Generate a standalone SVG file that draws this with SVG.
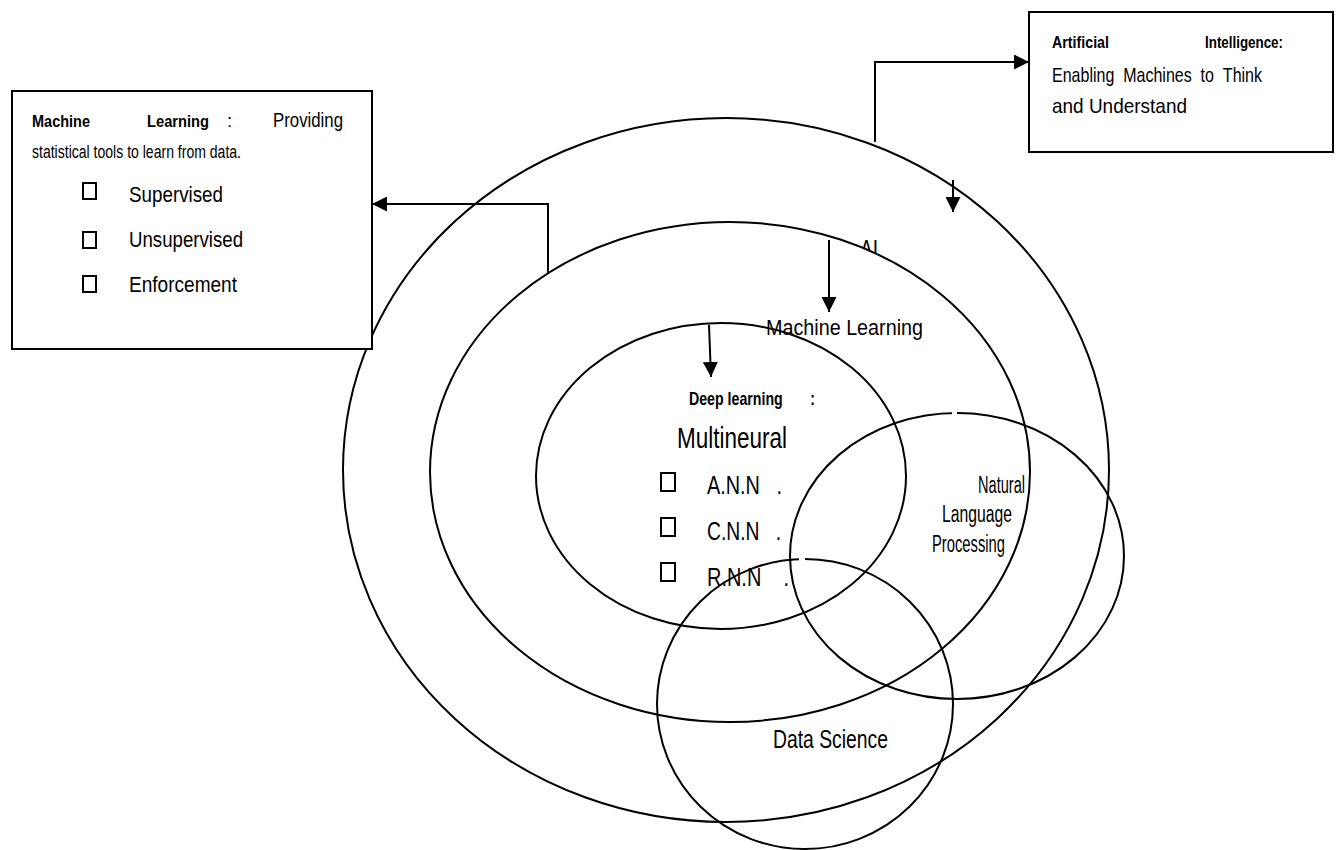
<svg xmlns="http://www.w3.org/2000/svg" width="1336" height="850" viewBox="0 0 1336 850">
<style>
  .ell{stroke:#000;stroke-width:2}
  .filled{fill:#fff}
  .open{fill:none}
  .box{fill:#fff;stroke:#000;stroke-width:2}
  .chk{fill:none;stroke:#000;stroke-width:2}
  .con{fill:none;stroke:#000;stroke-width:2}
  text{font-family:"Liberation Sans",Arial,sans-serif;fill:#000}
  .b{font-weight:bold}
</style>
<defs>
  <marker id="arr" viewBox="0 0 10 10" refX="10" refY="5" markerWidth="15" markerHeight="15" markerUnits="userSpaceOnUse" orient="auto">
    <path d="M0,0 L10,5 L0,10 Z" fill="#000"/>
  </marker>
</defs>
<rect width="1336" height="850" fill="#fff"/>

<g id="ai-ellipse">
  <ellipse class="ell filled" cx="726" cy="470" rx="383" ry="352"/>
  <text x="860" y="258" font-size="26" textLength="18" lengthAdjust="spacingAndGlyphs">AI</text>
</g>
<g id="ml-ellipse">
  <ellipse class="ell filled" cx="730" cy="472" rx="300" ry="250"/>
</g>
<g id="dl-ellipse">
  <ellipse class="ell filled" cx="721" cy="476" rx="185" ry="153"/>
  <text x="766" y="335" font-size="22" textLength="157" lengthAdjust="spacingAndGlyphs">Machine Learning</text>
  <text class="b" x="689" y="405" font-size="19" textLength="126" lengthAdjust="spacingAndGlyphs">Deep learning&#160;&#160;&#160;&#160;&#160;&#160;&#160;:</text>
  <text x="677" y="448" font-size="30" textLength="110" lengthAdjust="spacingAndGlyphs">Multineural</text>
  <rect class="chk" x="661" y="473" width="14" height="18"/>
  <rect class="chk" x="661" y="518" width="14" height="18"/>
  <rect class="chk" x="661" y="563" width="14" height="18"/>
  <text x="707" y="494" font-size="26" textLength="75" lengthAdjust="spacingAndGlyphs">A.N.N&#160;&#160;&#160;.</text>
  <text x="707" y="540" font-size="26" textLength="74" lengthAdjust="spacingAndGlyphs">C.N.N&#160;&#160;&#160;.</text>
  <text x="707" y="586" font-size="26" textLength="82" lengthAdjust="spacingAndGlyphs">R.N.N&#160;&#160;&#160;&#160;.</text>
</g>
<g id="nlp-ellipse">
  <ellipse class="ell open" cx="957" cy="556" rx="167" ry="143"/>
  <rect x="952" y="407" width="5" height="12" fill="#fff"/>
  <text x="1025" y="493" font-size="23" text-anchor="end" textLength="47" lengthAdjust="spacingAndGlyphs">Natural</text>
  <text x="942" y="522" font-size="23" textLength="70" lengthAdjust="spacingAndGlyphs">Language</text>
  <text x="932" y="552" font-size="23" textLength="73" lengthAdjust="spacingAndGlyphs">Processing</text>
</g>
<g id="ds-ellipse">
  <ellipse class="ell open" cx="805" cy="704" rx="148" ry="145"/>
  <rect x="799" y="553" width="6" height="12" fill="#fff"/>
  <text x="773" y="748" font-size="26" textLength="115" lengthAdjust="spacingAndGlyphs">Data Science</text>
</g>

<g id="ml-box">
  <rect class="box" x="12" y="91" width="360" height="258"/>
  <text class="b" x="32" y="127" font-size="17" textLength="58" lengthAdjust="spacingAndGlyphs">Machine</text>
  <text class="b" x="147" y="127" font-size="17" textLength="62" lengthAdjust="spacingAndGlyphs">Learning</text>
  <text x="227" y="127" font-size="19">:</text>
  <text x="273" y="127" font-size="20" textLength="70" lengthAdjust="spacingAndGlyphs">Providing</text>
  <text x="32" y="158" font-size="18" textLength="209" lengthAdjust="spacingAndGlyphs">statistical tools to learn from data.</text>
  <rect class="chk" x="83" y="183" width="13" height="16"/>
  <rect class="chk" x="83" y="232" width="13" height="16"/>
  <rect class="chk" x="83" y="276" width="13" height="16"/>
  <text x="129" y="202" font-size="22" textLength="94" lengthAdjust="spacingAndGlyphs">Supervised</text>
  <text x="129" y="247" font-size="22" textLength="114" lengthAdjust="spacingAndGlyphs">Unsupervised</text>
  <text x="129" y="292" font-size="22" textLength="108" lengthAdjust="spacingAndGlyphs">Enforcement</text>
</g>

<g id="ai-box">
  <rect class="box" x="1029" y="12" width="304" height="140"/>
  <text class="b" x="1052" y="48" font-size="17" textLength="57" lengthAdjust="spacingAndGlyphs">Artificial</text>
  <text class="b" x="1205" y="48" font-size="17" textLength="78" lengthAdjust="spacingAndGlyphs">Intelligence:</text>
  <text x="1052" y="82" font-size="21" textLength="210" lengthAdjust="spacingAndGlyphs">Enabling&#160;&#160;Machines&#160;&#160;to&#160;&#160;Think</text>
  <text x="1052" y="113" font-size="21" textLength="135" lengthAdjust="spacingAndGlyphs">and Understand</text>
</g>

<g id="connectors">
  <path class="con" d="M875,142 V62 H1029" marker-end="url(#arr)"/>
  <path class="con" d="M953,180 V212" marker-end="url(#arr)"/>
  <path class="con" d="M829,240 V312" marker-end="url(#arr)"/>
  <path class="con" d="M709,325 L711,377" marker-end="url(#arr)"/>
  <path class="con" d="M548,274 V204 H372" marker-end="url(#arr)"/>
</g>
</svg>
